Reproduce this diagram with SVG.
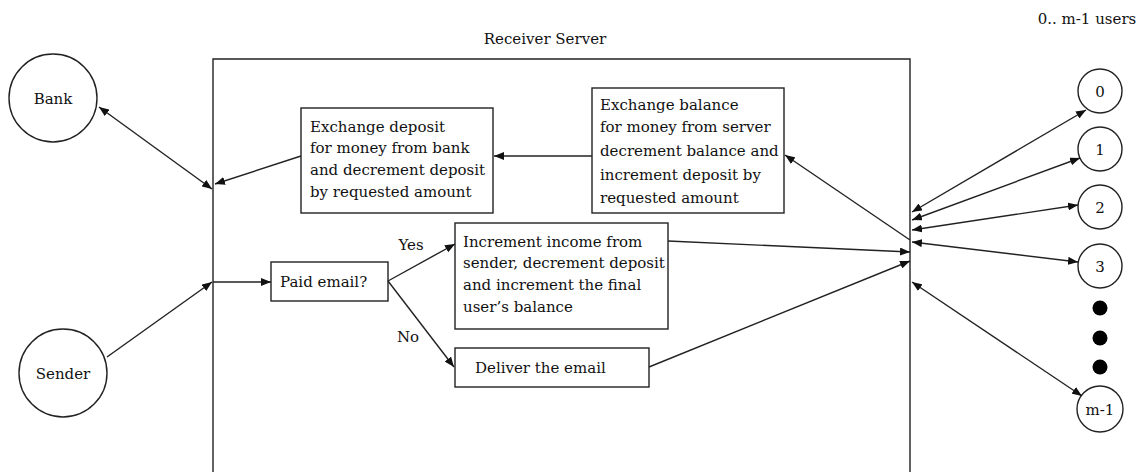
<svg xmlns="http://www.w3.org/2000/svg" width="1144" height="472" viewBox="0 0 1144 472">
  <defs>
    <marker id="arrow" viewBox="0 0 10 8" refX="10" refY="4" markerWidth="10" markerHeight="8" markerUnits="userSpaceOnUse" orient="auto-start-reverse">
      <path d="M0,0 L10,4 L0,8 z" fill="#111"/>
    </marker>
  </defs>
  <style>
    .shape { fill: #fff; stroke: #222; stroke-width: 1.4; }
    .edge { fill: none; stroke: #222; stroke-width: 1.4; marker-end: url(#arrow); }
    .both { marker-start: url(#arrow); }
    .dot { fill: #000; }
    text { font-size: 15px; fill: #111; }
    .mid { text-anchor: middle; }
  </style>
  <rect width="1144" height="472" fill="#fff"/>

  <g font-family="'DejaVu Serif', 'Liberation Serif', serif">
  <!-- server frame (open at the bottom) -->
  <g id="receiver-server">
    <path class="shape" style="fill:none" d="M213,472 V59 H910 V472"/>
    <text class="mid" x="545" y="44">Receiver Server</text>
  </g>
  <text id="users-label" class="mid" x="1087" y="24">0.. m-1 users</text>

  <!-- external parties -->
  <g id="bank">
    <circle class="shape" cx="53" cy="98" r="44"/>
    <text class="mid" x="53" y="104">Bank</text>
  </g>
  <g id="sender">
    <circle class="shape" cx="63" cy="373" r="44"/>
    <text class="mid" x="63" y="379">Sender</text>
  </g>

  <!-- processing steps inside the server -->
  <g id="exchange-deposit">
    <rect class="shape" x="301" y="108" width="192" height="105"/>
    <text x="310" y="132">Exchange deposit</text>
    <text x="310" y="153">for money from bank</text>
    <text x="310" y="175">and decrement deposit</text>
    <text x="310" y="197">by requested amount</text>
  </g>
  <g id="exchange-balance">
    <rect class="shape" x="592" y="88" width="192" height="125"/>
    <text x="600" y="110">Exchange balance</text>
    <text x="600" y="132">for money from server</text>
    <text x="600" y="156">decrement balance and</text>
    <text x="600" y="180">increment deposit by</text>
    <text x="600" y="203">requested amount</text>
  </g>
  <g id="paid-email">
    <rect class="shape" x="271" y="262" width="117" height="39"/>
    <text x="280" y="287">Paid email?</text>
  </g>
  <g id="increment-income">
    <rect class="shape" x="455" y="223" width="213" height="106"/>
    <text x="463" y="247">Increment income from</text>
    <text x="463" y="268">sender, decrement deposit</text>
    <text x="463" y="290">and increment the final</text>
    <text x="463" y="312">user’s balance</text>
  </g>
  <g id="deliver-email">
    <rect class="shape" x="455" y="348" width="194" height="39"/>
    <text x="475" y="373">Deliver the email</text>
  </g>
  <text class="mid" x="411" y="250">Yes</text>
  <text class="mid" x="408" y="342">No</text>

  <!-- users 0 .. m-1 -->
  <g id="user-0">
    <circle class="shape" cx="1100" cy="91" r="22"/>
    <text class="mid" x="1100" y="97">0</text>
  </g>
  <g id="user-1">
    <circle class="shape" cx="1100" cy="149" r="22"/>
    <text class="mid" x="1100" y="155">1</text>
  </g>
  <g id="user-2">
    <circle class="shape" cx="1100" cy="207" r="22"/>
    <text class="mid" x="1100" y="213">2</text>
  </g>
  <g id="user-3">
    <circle class="shape" cx="1100" cy="266" r="22"/>
    <text class="mid" x="1100" y="272">3</text>
  </g>
  <g id="user-m-1">
    <circle class="shape" cx="1100" cy="409" r="23"/>
    <text class="mid" x="1100" y="415">m-1</text>
  </g>
  </g>
  <g id="ellipsis">
    <circle class="dot" cx="1100" cy="308" r="7.5"/>
    <circle class="dot" cx="1100" cy="338" r="7.5"/>
    <circle class="dot" cx="1100" cy="367" r="7.5"/>
  </g>

  <!-- connectors -->
  <g id="connectors">
    <line class="edge both" x1="99" y1="107" x2="212" y2="189"/>
    <line class="edge" x1="301" y1="156" x2="215" y2="184"/>
    <line class="edge" x1="592" y1="156" x2="494" y2="156"/>
    <line class="edge" x1="910" y1="240" x2="785" y2="155"/>
    <line class="edge" x1="213" y1="282" x2="271" y2="282"/>
    <line class="edge" x1="107" y1="357" x2="212" y2="282"/>
    <line class="edge" x1="388" y1="281" x2="455" y2="244"/>
    <line class="edge" x1="388" y1="281" x2="454" y2="367"/>
    <line class="edge" x1="668" y1="241" x2="910" y2="252"/>
    <line class="edge" x1="649" y1="367" x2="910" y2="261"/>
    <line class="edge both" x1="912" y1="212" x2="1086" y2="110"/>
    <line class="edge both" x1="912" y1="220" x2="1080" y2="158"/>
    <line class="edge both" x1="912" y1="230" x2="1078" y2="205"/>
    <line class="edge both" x1="912" y1="242" x2="1078" y2="262"/>
    <line class="edge both" x1="912" y1="282" x2="1082" y2="396"/>
  </g>
</svg>
